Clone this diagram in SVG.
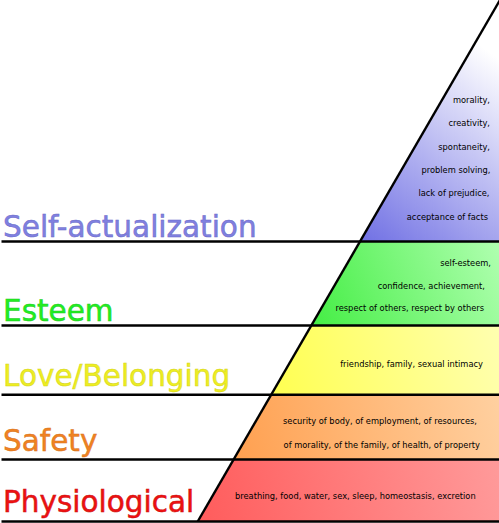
<svg xmlns="http://www.w3.org/2000/svg" width="499" height="523" viewBox="0 0 499 523">
<defs>
<linearGradient id="gSelf" x1="360" y1="241" x2="500" y2="60" gradientUnits="userSpaceOnUse"><stop offset="0" stop-color="#7070e4"/><stop offset="1" stop-color="#ffffff"/></linearGradient>
<linearGradient id="gEst" x1="311" y1="325" x2="499" y2="241" gradientUnits="userSpaceOnUse"><stop offset="0" stop-color="#44ee44"/><stop offset="1" stop-color="#b0ffb0"/></linearGradient>
<linearGradient id="gLove" x1="271" y1="394" x2="499" y2="325" gradientUnits="userSpaceOnUse"><stop offset="0" stop-color="#ffff50"/><stop offset="1" stop-color="#ffffb0"/></linearGradient>
<linearGradient id="gSaf" x1="234" y1="459" x2="499" y2="394" gradientUnits="userSpaceOnUse"><stop offset="0" stop-color="#ffa050"/><stop offset="1" stop-color="#ffd0a0"/></linearGradient>
<linearGradient id="gPhy" x1="198" y1="521" x2="499" y2="459" gradientUnits="userSpaceOnUse"><stop offset="0" stop-color="#ff5c5c"/><stop offset="1" stop-color="#ff9a9a"/></linearGradient>
</defs>
<style>
.lbl{font-family:"DejaVu Sans","Liberation Sans",sans-serif;font-size:29.5px;stroke-width:0.5}
.txt{font-family:"DejaVu Sans","Liberation Sans",sans-serif;font-size:8.3px;fill:#000}
.ln{stroke:#000;stroke-width:2.4;fill:none}
</style>
<rect width="499" height="523" fill="#ffffff"/>
<g id="self-actualization">
<polygon points="500,0 500,241.5 360.3,241.5" fill="url(#gSelf)"/>
<text class="lbl" x="3" y="237" fill="#8080e0" stroke="#6a6ac8">Self-actualization</text>
<text class="txt" x="490" y="103" text-anchor="end">morality,</text>
<text class="txt" x="490" y="126.3" text-anchor="end">creativity,</text>
<text class="txt" x="490" y="149.6" text-anchor="end">spontaneity,</text>
<text class="txt" x="490.5" y="173" text-anchor="end">problem solving,</text>
<text class="txt" x="489.5" y="196.3" text-anchor="end">lack of prejudice,</text>
<text class="txt" x="488" y="219.6" text-anchor="end">acceptance of facts</text>
</g>
<g id="esteem">
<polygon points="360.3,241.5 499,241.5 499,325.5 311.6,325.5" fill="url(#gEst)"/>
<text class="lbl" x="3" y="321" fill="#22ee22" stroke="#1ccc1c">Esteem</text>
<text class="txt" x="491" y="265.5" text-anchor="end">self-esteem,</text>
<text class="txt" x="485" y="288.8" text-anchor="end">confidence, achievement,</text>
<text class="txt" x="484" y="311" text-anchor="end">respect of others, respect by others</text>
</g>
<g id="love-belonging">
<polygon points="311.6,325.5 499,325.5 499,394.8 271.3,394.8" fill="url(#gLove)"/>
<text class="lbl" x="3" y="385.5" fill="#eeee22" stroke="#d4d41c">Love/Belonging</text>
<text class="txt" x="483" y="367" text-anchor="end">friendship, family, sexual intimacy</text>
</g>
<g id="safety">
<polygon points="271.3,394.8 499,394.8 499,459.5 234,459.5" fill="url(#gSaf)"/>
<text class="lbl" x="3" y="450.5" fill="#f08222" stroke="#d8721c">Safety</text>
<text class="txt" x="477" y="423.5" text-anchor="end">security of body, of employment, of resources,</text>
<text class="txt" x="480" y="447.8" text-anchor="end">of morality, of the family, of health, of property</text>
</g>
<g id="physiological">
<polygon points="234,459.5 499,459.5 499,521.5 197.7,521.5" fill="url(#gPhy)"/>
<text class="lbl" x="3" y="512" fill="#ee1111" stroke="#cc0e0e">Physiological</text>
<text class="txt" x="475.7" y="498.5" text-anchor="end">breathing, food, water, sex, sleep, homeostasis, excretion</text>
</g>
<g id="connectors">
<line class="ln" x1="500" y1="0" x2="197.7" y2="521.5"/>
<line class="ln" x1="1.5" y1="241.5" x2="499" y2="241.5"/>
<line class="ln" x1="1.5" y1="325.5" x2="499" y2="325.5"/>
<line class="ln" x1="1.5" y1="394.8" x2="499" y2="394.8"/>
<line class="ln" x1="1.5" y1="459.5" x2="499" y2="459.5"/>
<line class="ln" x1="1.5" y1="521.5" x2="499" y2="521.5"/>
</g>
</svg>
